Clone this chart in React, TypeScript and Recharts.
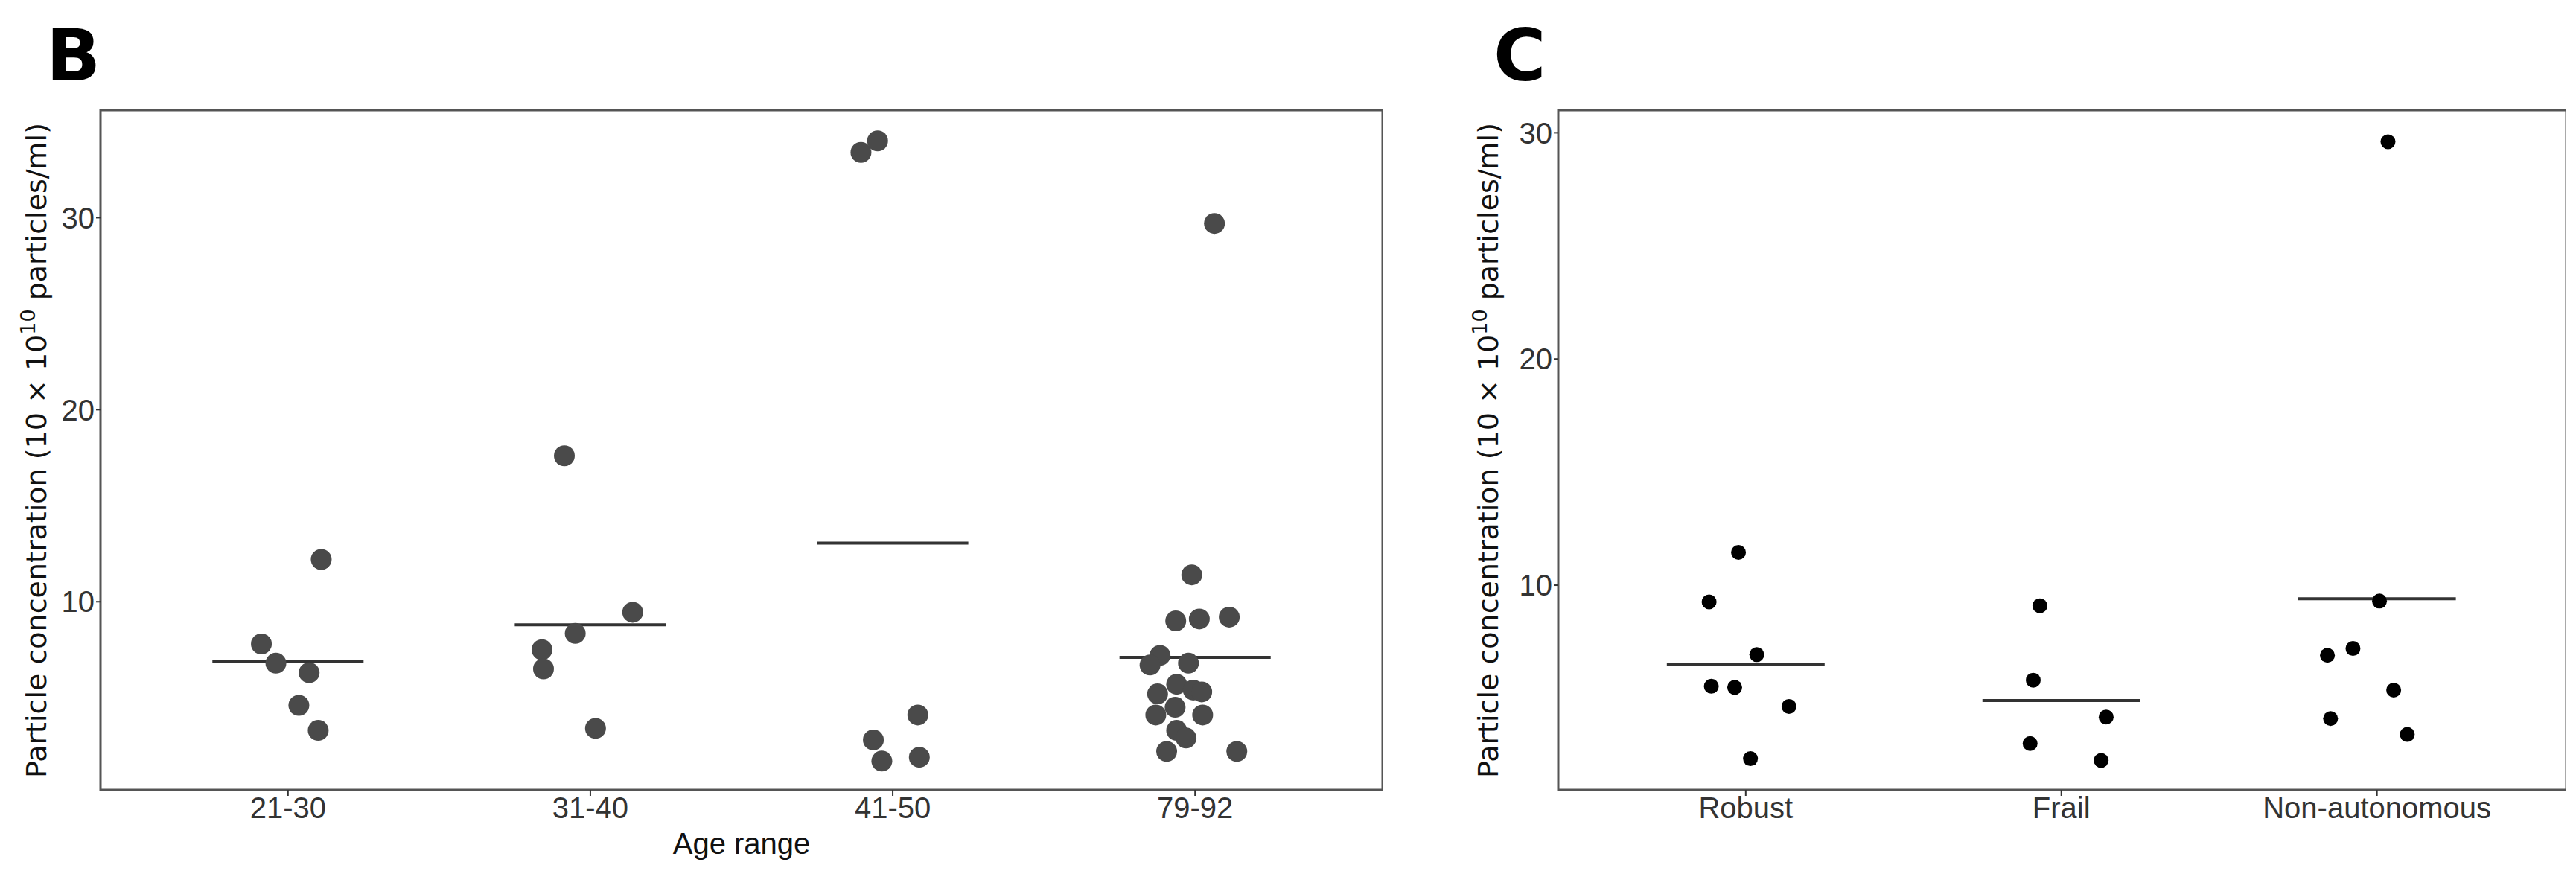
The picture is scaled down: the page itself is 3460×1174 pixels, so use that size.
import React from "react";
import {
  ScatterChart,
  Scatter,
  XAxis,
  YAxis,
  ReferenceLine,
  ReferenceArea,
} from "recharts";

// Panel B: age ranges (x = category index + jitter)
const ageCategories = ["21-30", "31-40", "41-50", "79-92"];
const ageMedians = [6.9, 8.8, 13.05, 7.1];
const agePoints = [
  { x: 0.912, y: 7.8 }, { x: 0.96, y: 6.8 }, { x: 1.07, y: 6.3 },
  { x: 1.11, y: 12.2 }, { x: 1.036, y: 4.6 }, { x: 1.1, y: 3.3 },
  { x: 1.914, y: 17.6 }, { x: 2.14, y: 9.45 }, { x: 1.95, y: 8.35 },
  { x: 1.84, y: 7.5 }, { x: 1.845, y: 6.5 }, { x: 2.017, y: 3.4 },
  { x: 2.895, y: 33.4 }, { x: 2.95, y: 34.0 }, { x: 3.083, y: 4.1 },
  { x: 2.936, y: 2.8 }, { x: 2.964, y: 1.7 }, { x: 3.088, y: 1.9 },
  { x: 4.064, y: 29.7 }, { x: 3.989, y: 11.4 }, { x: 3.936, y: 9.0 },
  { x: 4.014, y: 9.1 }, { x: 4.113, y: 9.2 }, { x: 3.884, y: 7.2 },
  { x: 3.851, y: 6.7 }, { x: 3.978, y: 6.8 }, { x: 3.939, y: 5.7 },
  { x: 3.876, y: 5.2 }, { x: 3.994, y: 5.4 }, { x: 4.022, y: 5.3 },
  { x: 3.87, y: 4.1 }, { x: 3.934, y: 4.5 }, { x: 4.025, y: 4.1 },
  { x: 3.939, y: 3.3 }, { x: 3.97, y: 2.9 }, { x: 3.906, y: 2.2 },
  { x: 4.138, y: 2.2 },
];

// Panel C: frailty groups
const frailCategories = ["Robust", "Frail", "Non-autonomous"];
const frailMedians = [6.5, 4.9, 9.4];
const frailPoints = [
  { x: 0.977, y: 11.45 }, { x: 0.884, y: 9.26 }, { x: 1.035, y: 6.93 },
  { x: 0.891, y: 5.53 }, { x: 0.965, y: 5.48 }, { x: 1.137, y: 4.64 },
  { x: 1.015, y: 2.33 },
  { x: 1.932, y: 9.09 }, { x: 1.911, y: 5.8 }, { x: 2.142, y: 4.17 },
  { x: 1.901, y: 3.0 }, { x: 2.126, y: 2.25 },
  { x: 3.035, y: 29.6 }, { x: 3.008, y: 9.3 }, { x: 2.924, y: 7.2 },
  { x: 2.843, y: 6.9 }, { x: 3.053, y: 5.36 }, { x: 2.853, y: 4.1 },
  { x: 3.096, y: 3.4 },
];

const tickFont = { fontFamily: "Liberation Sans Narrow, Liberation Sans, sans-serif", fontSize: 40, fill: "#333" };
const labelFont = "DejaVu Sans, sans-serif";

function YLabel({ cx, cy }: { cx: number; cy: number }) {
  return (
    <text
      x={cx}
      y={cy}
      transform={`rotate(-90 ${cx} ${cy})`}
      textAnchor="middle"
      fontFamily={labelFont}
      fontSize={38}
      fill="#111"
    >
      Particle concentration (10 × 10
      <tspan fontSize={27} dy={-15}>10</tspan>
      <tspan dy={15}> particles/ml)</tspan>
    </text>
  );
}

function Panel({
  width,
  left,
  categories,
  medians,
  points,
  xDomain,
  yDomain,
  yTicks,
  radius,
  color,
  xTitle,
  labelX,
}: any) {
  const xmin = xDomain[0];
  const xmax = xDomain[1];
  return (
    <div style={{ position: "absolute", left, top: 0 }}>
      <ScatterChart width={width} height={1174} margin={{ top: 148, right: 0, bottom: 0, left: 0 }}>
        <XAxis
          type="number"
          dataKey="x"
          domain={xDomain}
          ticks={categories.map((_: string, i: number) => i + 1)}
          tickFormatter={(v: number) => categories[v - 1]}
          tick={tickFont}
          tickLine={{ stroke: "#333", strokeWidth: 2 }}
          tickSize={8}
          axisLine={false}
          allowDataOverflow
          height={113}
          label={xTitle ? { value: xTitle, position: "insideTop", offset: 58, style: { ...tickFont, fill: "#111" } } : undefined}
        />
        <YAxis
          type="number"
          dataKey="y"
          domain={yDomain}
          ticks={yTicks}
          tick={tickFont}
          tickLine={{ stroke: "#333", strokeWidth: 2 }}
          tickSize={6}
          axisLine={false}
          allowDataOverflow
          width={labelX}
        />
        <ReferenceArea
          x1={xmin}
          x2={xmax}
          y1={yDomain[0]}
          y2={yDomain[1]}
          fill="none"
          stroke="#555"
          strokeWidth={3}
          ifOverflow="visible"
        />
        {medians.map((m: number, i: number) => (
          <ReferenceLine
            key={i}
            segment={[
              { x: i + 1 - 0.25, y: m },
              { x: i + 1 + 0.25, y: m },
            ]}
            stroke="#333"
            strokeWidth={4}
          />
        ))}
        <Scatter
          data={points}
          isAnimationActive={false}
          shape={(p: any) => <circle cx={p.cx} cy={p.cy} r={radius} fill={color} />}
        />
      </ScatterChart>
    </div>
  );
}

export default function App() {
  return (
    <div style={{ position: "absolute", left: 0, top: 0, width: 3460, height: 1174, background: "#fff" }}>
      <svg width={3460} height={1174} style={{ position: "absolute", left: 0, top: 0 }}>
        <text x={62} y={108} fontFamily="DejaVu Sans, sans-serif" fontWeight="bold" fontSize={96}>B</text>
        <text x={2006} y={108} fontFamily="DejaVu Sans, sans-serif" fontWeight="bold" fontSize={96}>C</text>
        <YLabel cx={62} cy={605} />
        <YLabel cx={2012} cy={605} />
      </svg>
      <Panel
        width={1857}
        left={0}
        categories={ageCategories}
        medians={ageMedians}
        points={agePoints}
        xDomain={[0.38, 4.62]}
        yDomain={[0.2, 35.6]}
        yTicks={[10, 20, 30]}
        radius={14}
        color="#4a4a4a"
        xTitle="Age range"
        labelX={135}
      />
      <Panel
        width={3447 - 1780}
        left={1780}
        categories={frailCategories}
        medians={frailMedians}
        points={frailPoints}
        xDomain={[0.406, 3.6]}
        yDomain={[0.95, 31]}
        yTicks={[10, 20, 30]}
        radius={10}
        color="#000"
        xTitle=""
        labelX={2093 - 1780}
      />
    </div>
  );
}
